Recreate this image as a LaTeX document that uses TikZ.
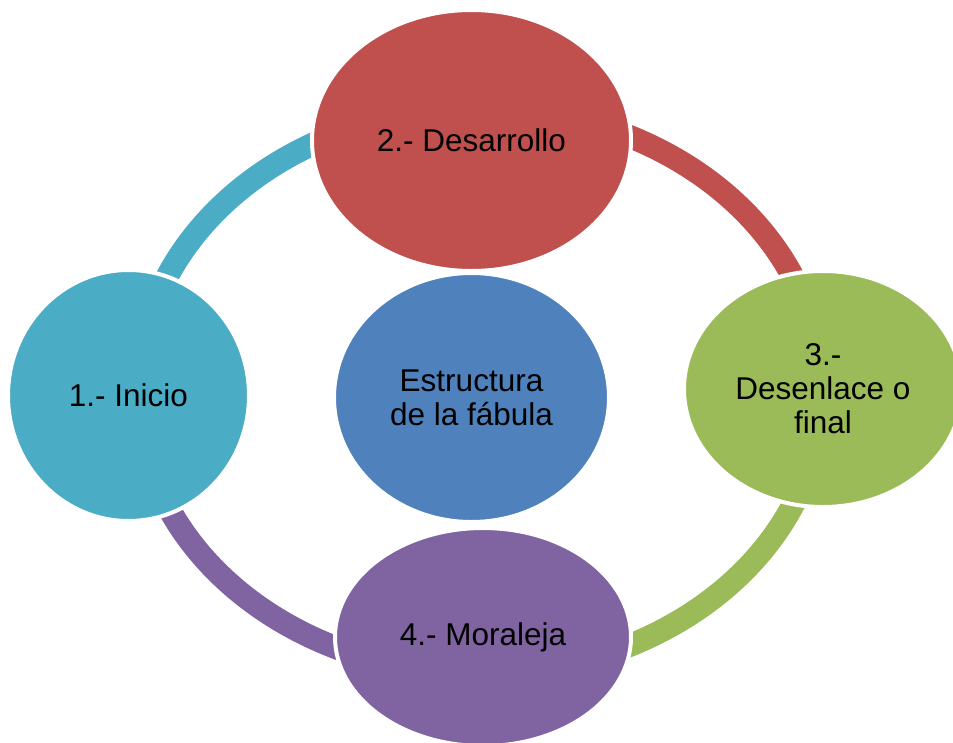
\documentclass[tikz,border=0pt]{standalone}
\usepackage{fontspec}
\setmainfont{Liberation Sans}
\usetikzlibrary{shapes.geometric}
\definecolor{cteal}{HTML}{4BACC6}
\definecolor{cred}{HTML}{C0504D}
\definecolor{cblue}{HTML}{4F81BD}
\definecolor{cgreen}{HTML}{9BBB59}
\definecolor{cpurple}{HTML}{8064A2}
\tikzset{
  bubble/.style={ellipse, draw=white, line width=4pt, inner sep=0pt, align=center,
    font=\fontsize{31.5}{34}\selectfont, text=black},
  ring/.style={line width=23pt, line cap=butt},
}
\begin{document}
\begin{tikzpicture}[x=1pt,y=-1pt]
\useasboundingbox (0,0) rectangle (953,742);
\clip (0,0) rectangle (953,742);
\fill[white] (0,0) rectangle (953,742);
% ring segments
\draw[ring, cteal, domain=95:175, samples=80, variable=\t]
  plot ({480+342*cos(\t)}, {391-283*sin(\t)});
\draw[ring, cred, domain=5:85, samples=80, variable=\t]
  plot ({480+342*cos(\t)}, {391-283*sin(\t)});
\draw[ring, cgreen, domain=-85:-5, samples=80, variable=\t]
  plot ({480+342*cos(\t)}, {391-283*sin(\t)});
\draw[ring, cpurple, domain=185:265, samples=80, variable=\t]
  plot ({480+342*cos(\t)}, {391-283*sin(\t)});
% nodes
\node[bubble, fill=cblue, minimum width=275pt, minimum height=249pt] (centro) at (471.5,397.5) {Estructura\\de la fábula};
\node[bubble, fill=cred, minimum width=319pt, minimum height=261pt] (desarrollo) at (471.5,140.5) {2.- Desarrollo};
\node[bubble, fill=cteal, minimum width=241pt, minimum height=251pt] (inicio) at (128.5,395.5) {1.- Inicio};
\node[bubble, fill=cgreen, minimum width=278pt, minimum height=236pt] (desenlace) at (823,389) {3.-\\Desenlace o\\final};
\node[bubble, fill=cpurple, minimum width=296pt, minimum height=218pt] (moraleja) at (483,637) {4.- Moraleja};
\end{tikzpicture}
\end{document}
